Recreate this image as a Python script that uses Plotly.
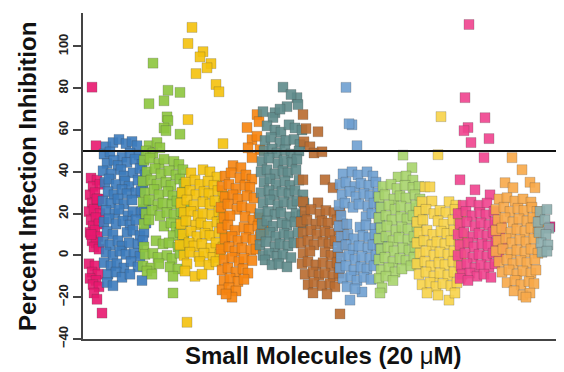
import plotly.graph_objects as go

# ---- data: compound index (x) and percent infection inhibition (y) per group ----
g1_x = [9, 13, 19, 8, 14, 10, 17, 7, 12, 16, 9, 14, 6, 11, 17, 8, 13, 10, 16, 7, 12, 15, 9, 13, 11, 16, 8, 14,
        6, 12, 9, 15, 7, 13, 10, 16, 11, 14]
g1_y = [80.5, 52.5, -27.6, 37, 36, 33, 34, 29, 30, 27, 25, 24, 21, 22, 20, 17, 18, 14, 15, 11, 12, 9, 7, 6, 4, 3, 10, 27,
        -4, -5, -8, -9, -11, -12, -14, -15, -18, -21]

g2_x = [23, 30, 36, 43, 49, 54,
        21, 27, 39, 47, 56,
        24, 31, 35, 44, 52, 59,
        20, 28, 38, 41, 50, 57, 62,
        22, 26, 33, 42, 46, 55, 60,
        25, 31, 39, 44, 53, 58,
        20, 28, 35, 41, 49, 63,
        23, 32, 36, 45, 50, 58, 61,
        21, 26, 33, 40, 47, 53, 63,
        24, 30, 44, 50, 57, 61,
        20, 27, 35, 39, 46, 55, 60,
        23, 30, 37, 43, 51, 57,
        21, 28, 34, 41, 48, 55,
        25, 33, 39, 47,
        24, 30, 59]
g2_y = [52, 54, 55.5, 53.5, 54.5, 52.5,
        48.5, 49.5, 47, 49, 48,
        44, 45.5, 43, 44.5, 46, 43.5,
        40.5, 39, 41, 38, 39.5, 41.5, 38.5,
        35, 36.5, 34, 35.5, 33, 36, 34.5,
        30.5, 29, 31.5, 29.5, 30, 31,
        26, 25, 27, 24.5, 26.5, 25,
        21.5, 20, 22, 19, 21, 20.5, 22,
        16, 17.5, 15, 16.5, 14.5, 17, 15.5,
        11.5, 10, 11, 12, 9.5, 11,
        6.5, 5, 7, 4.5, 6, 5.5, 7,
        1.5, 0, 2, 0.5, 1, -0.5,
        -3.5, -5, -4, -6, -3, -5.5,
        -9, -8, -10.5, -9,
        -13, -14.5, -12]

g3_x = [70, 66, 81, 85, 97, 84, 85, 81, 97, 83, 66, 74,
        63, 70, 77,
        61, 67, 76, 81, 91, 96,
        64, 72, 78, 86, 93, 100,
        60, 68, 74, 83, 88, 97, 101,
        62, 71, 76, 85, 90, 99,
        60, 66, 75, 80, 89, 94, 102,
        63, 69, 77, 84, 91, 98,
        61, 66, 81, 88, 93, 100,
        73, 90, 97, 101,
        61, 80, 86, 95, 100,
        62, 70, 75, 84, 89, 97,
        60, 68, 76, 87, 95,
        64, 69, 90, 90]
g3_y = [92, 72.6, 74, 79, 78, 66.3, 64.5, 61, 58, 59.7, 52.5, 54,
        50, 49, 51.5,
        45.5, 46.5, 44, 46, 45, 43.5,
        40, 41.5, 39, 40.5, 38.5, 41,
        35.5, 36, 34, 35, 33.5, 36.5, 34,
        30, 31.5, 29, 30.5, 28.5, 30,
        25.5, 26.5, 24, 25, 24.5, 26, 23.5,
        20, 21.5, 19, 20.5, 19.5, 21,
        15, 17, 14, 15.5, 13.5, 16,
        7, 9.5, 11, 8,
        4, 5.5, 6, 4, 5,
        0.5, 1, -1, 0, -1.5, 1,
        -5, -6, -4, -5.5, -6.5,
        -7.5, -9, -10, -18]

g4_x = [109, 105, 120, 117, 128, 124, 113, 133, 136, 105, 140, 120,
        108, 127, 134,
        103, 112, 117, 125, 131,
        99, 107, 113, 121, 126, 135, 140,
        98, 104, 111, 120, 127, 132, 141,
        101, 108, 115, 120, 129, 136, 140,
        98, 103, 113, 118, 125, 134, 139,
        100, 108, 114, 122, 127, 136, 142,
        97, 106, 111, 119, 128, 133, 140,
        101, 107, 116, 121, 130, 137,
        104, 117, 126, 133,
        102, 112, 119, 104]
g4_y = [109.1, 101.4, 97.5, 95, 91.8, 89.8, 87, 81.8, 78.3, 65, 53.5, 41,
        39.5, 40, 37.5,
        35, 36, 34, 35.5, 33.5,
        30, 31, 29, 30.5, 29.5, 31, 28.5,
        25, 26.5, 24, 25.5, 24.5, 26, 25,
        20.5, 21, 19, 20, 19.5, 21, 18.5,
        15, 16.5, 14.5, 15.5, 14, 16, 15,
        10, 11.5, 9, 10.5, 9.5, 11, 9,
        5, 6, 4.5, 5.5, 3.5, 6, 4,
        0, 1.5, -0.5, 1, -1, 0.5,
        -4, -3, -4.5, -3,
        -7.5, -10, -9, -32]

g5_x = [164, 174, 176, 169, 174, 165, 177, 169,
        150, 158,
        142, 148, 157, 163, 169,
        139, 146, 153, 162, 167,
        142, 150, 155, 164, 171,
        138, 145, 154, 159, 168,
        141, 147, 162, 170, 176,
        139, 145, 152, 161, 166, 175, 181,
        142, 149, 155, 163, 170, 177,
        138, 146, 152, 159, 168, 173,
        141, 149, 156, 161, 169,
        139, 145, 153, 160, 165,
        141, 147, 155, 161,
        139, 146, 153,
        149, 143]
g5_y = [61.2, 67.4, 64, 55.4, 57, 51.5, 50.6, 46.8,
        43, 42,
        38, 39.5, 37, 38.5, 36.5,
        33, 34, 32, 33.5, 32.5,
        28, 29, 27, 28.5, 27.5,
        23, 24.5, 22, 23.5, 22.5,
        18, 19, 18.5, 17, 18,
        13, 14.5, 12, 13.5, 12.5, 14, 12,
        8, 9, 7, 8.5, 7.5, 9,
        3, 4, 2, 3.5, 2.5, 3,
        -2, -1, -3, -1.5, -2.5,
        -7, -6, -8, -6.5, -8.5,
        -12, -11, -12.5, -11.5,
        -16.5, -15.5, -17,
        -20, -18.5]

g6_x = [200, 214, 180, 192, 204, 215, 190, 197, 208,
        184, 192, 198, 206, 212, 219,
        182, 188, 197, 203, 211, 217,
        181, 189, 194, 202, 208, 216,
        179, 186, 195, 201, 209, 214,
        178, 184, 192, 200, 205, 213,
        181, 187, 193, 202, 207, 216,
        178, 186, 191, 199, 206, 212, 220,
        180, 187, 195, 201, 209, 214, 221,
        177, 185, 192, 198, 207, 213, 219,
        179, 184, 190, 199, 204, 212, 220,
        178, 187, 193, 201, 206, 215,
        177, 183, 192, 197, 205, 211,
        180, 186, 194, 200, 208,
        182, 189, 196, 204]
g6_y = [80.5, 75.5, 68.8, 68.3, 71.2, 72.2, 66, 70, 77,
        62, 60, 59, 62.5, 61, 60,
        55, 56.5, 54, 55, 55.5, 53,
        50, 51, 49, 50.5, 48.5, 50,
        45, 46.5, 44, 45.5, 44.5, 46,
        40, 41, 39, 40.5, 39.5, 41,
        35, 36.5, 34, 35.5, 33.5, 36,
        30, 31, 29, 30.5, 29.5, 31, 29,
        25, 26.5, 24, 25.5, 24.5, 26, 25,
        20, 21, 19.5, 20.5, 18.5, 20, 19,
        15, 16.5, 14, 15.5, 14.5, 16, 15,
        10, 11, 9, 10.5, 9.5, 11,
        5, 6.5, 4, 5.5, 4.5, 6,
        0, 1, -0.5, 0.5, -1,
        -2.2, -4.5, -4, -5.5]

g7_x = [220, 223, 235, 221, 227, 231, 239, 220, 242, 250, 220, 235,
        222, 228, 237, 243, 251, 257,
        218, 224, 233, 239, 245, 254, 260,
        220, 228, 234, 242, 247, 256, 261,
        218, 225, 231, 240, 246, 252, 259,
        220, 227, 242, 248, 255,
        219, 225, 233, 240, 248, 254,
        222, 230, 236, 242, 250, 256,
        225, 231, 239, 247, 252,
        230, 244, 257]
g7_y = [67.4, 60.7, 59.2, 54.4, 52, 49, 49.6, 36.2, 36.2, 32.4, 25.7, 25.2,
        21, 22, 20, 21.5, 20.5, 21,
        16, 17, 15, 16.5, 15.5, 17, 15,
        11, 12, 10, 11.5, 10.5, 12, 10,
        6, 7, 5, 6.5, 5.5, 7, 5,
        1, 2, 1.5, 0, 1.5,
        -4, -3, -4.5, -3.5, -5, -3.5,
        -9, -8, -9.5, -8.5, -10, -8.5,
        -14, -13, -14.5, -13.5, -15,
        -18, -18.5, -28]

g8_x = [263, 269, 266, 274,
        260, 269, 275, 284, 290,
        257, 263, 272, 278, 286, 293,
        259, 267, 273, 281, 287, 295,
        256, 262, 270, 276, 285, 291, 297,
        258, 283, 289, 296,
        256, 264, 277, 283, 292, 297,
        258, 265, 271, 280, 286, 292, 299,
        255, 263, 270, 276, 285, 290, 297,
        258, 266, 272, 279, 287, 293,
        257, 263, 271, 278, 284, 291,
        260, 268, 274, 281, 288,
        264, 279, 267, 272]
g8_y = [80.4, 62.5, 63, 52.5,
        39, 40, 38.5, 40, 38,
        34, 35, 33, 34.5, 33.5, 35,
        29, 30.5, 28, 29.5, 28.5, 30,
        24, 25, 23, 24.5, 23.5, 25, 23,
        19, 18.5, 20, 18,
        14, 15, 13.5, 14.5, 13, 15,
        9, 10, 8, 9.5, 8.5, 10, 8,
        4, 5, 3, 4.5, 3.5, 5, 3,
        -1, 0, -2, -0.5, -1.5, 0,
        -6, -5, -7, -5.5, -6.5, -5,
        -11, -10, -12, -10.5, -11.5,
        -15, -17.5, -21.4, -16]

g9_x = [320, 329,
        315, 323, 330,
        300, 308, 314, 322, 330, 336,
        296, 302, 311, 317, 323, 332, 337,
        298, 306, 312, 318, 327, 333, 339,
        296, 303, 309, 318, 324, 330, 338,
        298, 304, 313, 319, 325, 334,
        296, 303, 310, 316, 325, 331, 337,
        298, 305, 311, 320, 326, 332,
        296, 302, 310, 317, 323, 331,
        298, 306, 312, 319, 328, 335,
        296, 303, 310,
        299, 297]
g9_y = [48, 42,
        37.5, 38, 36,
        33, 34, 32, 33.5, 32.5, 33,
        28, 29, 27, 28.5, 27.5, 29, 27,
        23, 24, 22, 23.5, 22.5, 24, 22,
        18, 19, 17, 18.5, 17.5, 19, 17,
        13, 14, 12, 13.5, 12.5, 14,
        8, 9, 7, 8.5, 7.5, 9, 7,
        3, 4, 2, 3.5, 2.5, 4,
        -2, -1, -3, -1.5, -2.5, -1,
        -7, -6, -8, -6.5, -5, -4,
        -11, -10, -12,
        -15.5, -18]

g10_x = [358, 355, 342, 347,
         339, 349, 366, 373,
         336, 343, 351, 357, 363, 372, 378,
         334, 340, 355, 361, 370, 376,
         336, 344, 350, 358, 364, 371, 379,
         334, 341, 349, 354, 362, 368, 376, 381,
         337, 343, 351, 357, 365, 371, 378,
         334, 342, 348, 356, 362, 370, 376,
         336, 343, 351, 357, 365, 371, 378,
         339, 347, 353, 360, 368, 374,
         344, 355, 366, 372]
g10_y = [66.4, 48.2, 32.8, 32.8,
         25.7, 26, 25.7, 24,
         21, 22, 20, 21.5, 20.5, 22, 20,
         16, 17, 16.5, 15, 17, 15.5,
         11, 12, 10, 11.5, 10.5, 12, 10,
         6, 7, 5, 6.5, 5.5, 7, 5, 6,
         1, 2, 0, 1.5, 0.5, 2, 0,
         -4, -3, -5, -3.5, -4.5, -3, -5,
         -9, -8, -10, -8.5, -9.5, -8, -10,
         -14, -13, -15, -13.5, -14.5, -13,
         -18, -19, -21.4, -18]

g11_x = [386, 382, 402, 385, 381, 406, 388, 401, 377, 392, 407,
         380, 388, 396, 404,
         375, 383, 389, 397, 403, 411,
         377, 384, 392, 398, 406, 412, 418,
         375, 381, 390, 396, 404, 410, 417,
         377, 385, 391, 399, 405, 413, 419,
         375, 382, 390, 396, 404, 410, 416,
         378, 384, 392, 398, 406, 412,
         379, 387, 394, 401, 408,
         377, 385]
g11_y = [110.5, 75.5, 65.9, 61.2, 59.7, 55.9, 54, 46.8, 36.2, 31.4, 29,
         24, 25.5, 24, 25,
         20, 21, 19, 20.5, 19.5, 21,
         15, 16, 14, 15.5, 14.5, 16, 14,
         10, 11, 9, 10.5, 9.5, 11, 9,
         5, 6, 4, 5.5, 4.5, 6, 4,
         0, 1, -1, 0.5, -0.5, 1, -1,
         -5, -4, -6, -4.5, -5.5, -4,
         -9, -8.5, -10, -9, -10.5,
         -11, -12]

g12_x = [429, 439, 447, 452, 422, 430,
         416, 424, 432, 440, 448,
         413, 421, 427, 435, 441, 449, 454,
         415, 422, 430, 436, 444, 450, 456,
         413, 419, 428, 434, 442, 448, 455,
         415, 423, 429, 437, 443, 451,
         413, 420, 428, 434, 442, 448, 455,
         416, 424, 430, 438, 444, 452,
         419, 426, 434, 440, 448, 453,
         424, 432, 438, 446, 451,
         431, 440, 447, 443]
g12_y = [46.8, 41, 35, 32.4, 34.8, 32.4,
         27, 27.6, 26, 27, 25.5,
         22, 23, 21, 22.5, 21.5, 23, 21,
         17, 18, 16, 17.5, 16.5, 18, 16,
         12, 13, 11, 12.5, 11.5, 13, 11,
         7, 8, 6, 7.5, 6.5, 8,
         2, 3, 1, 2.5, 1.5, 3, 1,
         -3, -2, -4, -2.5, -3.5, -2,
         -8, -7, -9, -7.5, -8.5, -7,
         -13, -12, -14, -12.5, -13.5,
         -17, -19, -18, -20]

g13_x = [467]
g13_y = [13.7]

g14_x = [457, 464, 455, 462, 466, 456, 463, 458, 465, 459, 464]
g14_y = [21, 22, 16, 17, 13, 11, 10, 6, 5, 1.5, 2]

groups = [
    (g1_x, g1_y, "#E8186F"),
    (g2_x, g2_y, "#3D7CBD"),
    (g3_x, g3_y, "#8DC63F"),
    (g4_x, g4_y, "#F4C20D"),
    (g5_x, g5_y, "#F7840F"),
    (g6_x, g6_y, "#5F8B8B"),
    (g7_x, g7_y, "#B96B2F"),
    (g8_x, g8_y, "#6FA0D1"),
    (g9_x, g9_y, "#A8D46C"),
    (g10_x, g10_y, "#F8D34A"),
    (g11_x, g11_y, "#F0438E"),
    (g12_x, g12_y, "#F8A94A"),
    (g13_x, g13_y, "#D81B7A"),
    (g14_x, g14_y, "#8CAEAE"),
]

y_ticks = [-40, -20, 0, 20, 40, 60, 80, 100]
threshold = 50

fig = go.Figure()
for gx, gy, col in groups:
    n = min(len(gx), len(gy))
    fig.add_trace(go.Scatter(
        x=gx[:n], y=gy[:n], mode="markers",
        marker=dict(symbol="square", size=10, color=col, opacity=0.9,
                    line=dict(color="rgba(60,60,60,0.35)", width=0.7)),
        showlegend=False, hoverinfo="skip"))

fig.add_shape(type="line", xref="paper", x0=0, x1=1, yref="y", y0=threshold, y1=threshold,
              line=dict(color="#111", width=2), layer="above")

fig.update_layout(
    width=556, height=364,
    margin=dict(l=75, r=0, t=5, b=33),
    paper_bgcolor="white", plot_bgcolor="white",
    font=dict(family="Arial, Liberation Sans, sans-serif", color="#333"),
    xaxis=dict(range=[0, 481], showgrid=False, zeroline=False, showticklabels=False,
               ticks="", showline=True, linecolor="#444", linewidth=2),
    yaxis=dict(range=[-40, 116], tickvals=y_ticks, showgrid=False, zeroline=False,
               ticks="outside", ticklen=8, tickwidth=2, tickcolor="#444",
               showline=True, linecolor="#444", linewidth=2, tickangle=-90,
               tickfont=dict(size=13, color="#222", weight="bold")),
    annotations=[
        dict(text="<b>Percent Infection Inhibition</b>", xref="paper", yref="paper",
             x=-0.1143, y=0.497, xanchor="center", yanchor="middle", textangle=-90,
             showarrow=False, font=dict(size=24, color="#111")),
        dict(text="<b>Small Molecules (20 </b>μ<b>M)</b>", xref="paper", yref="paper",
             x=0.5, y=-0.052, xanchor="center", yanchor="middle",
             showarrow=False, font=dict(size=24, color="#111")),
    ],
)

fig.write_html("out.html")
